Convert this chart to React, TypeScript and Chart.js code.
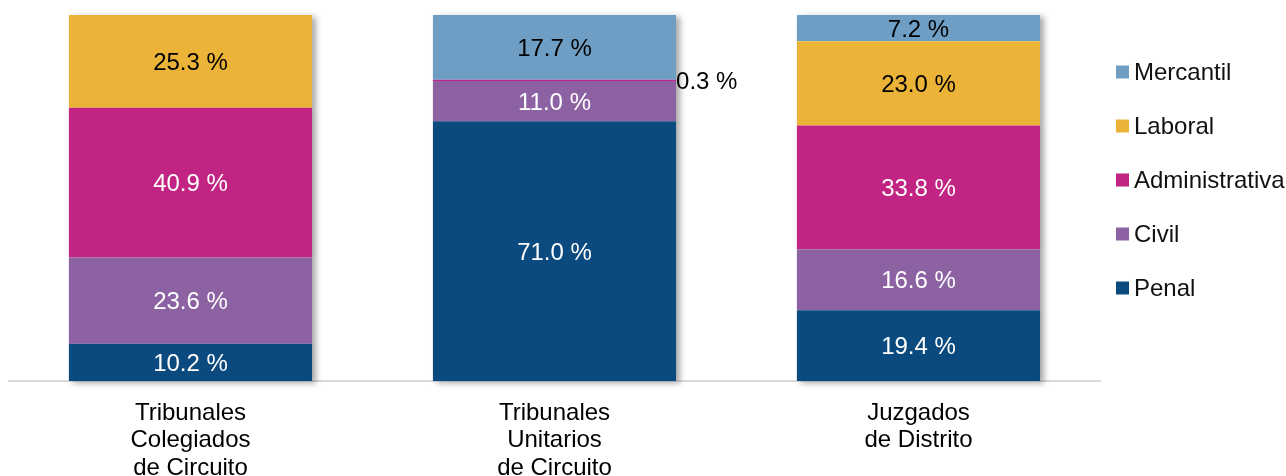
import React, { useEffect, useRef } from "react";
import { Chart, registerables } from "chart.js";

Chart.register(...registerables);

const categories = [
  ["Tribunales", "Colegiados", "de Circuito"],
  ["Tribunales", "Unitarios", "de Circuito"],
  ["Juzgados", "de Distrito"],
];
const seriesNames = ["Penal", "Civil", "Administrativa", "Laboral", "Mercantil"];
const penal = [10.2, 71.0, 19.4];
const civil = [23.6, 11.0, 16.6];
const administrativa = [40.9, 0.3, 33.8];
const laboral = [25.3, 0, 23.0];
const mercantil = [0, 17.7, 7.2];
const seriesValues = [penal, civil, administrativa, laboral, mercantil];
const seriesColors = ["#0b4a7e", "#8d62a3", "#c12482", "#ebb337", "#6f9ec4"];
const labelColors = ["#ffffff", "#ffffff", "#ffffff", "#000000", "#000000"];

const FONT = '"Liberation Sans", Arial, sans-serif';

const shadowPlugin = {
  id: "barShadow",
  beforeDatasetsDraw(chart: any) {
    const ctx = chart.ctx;
    const meta = chart.getDatasetMeta(0);
    const y = chart.scales.y;
    ctx.save();
    ctx.shadowColor = "rgba(0,0,0,0.35)";
    ctx.shadowBlur = 6;
    ctx.shadowOffsetX = 4;
    ctx.shadowOffsetY = 2;
    ctx.fillStyle = "#ffffff";
    meta.data.forEach((bar: any, i: number) => {
      let total = 0;
      seriesValues.forEach((s) => (total += s[i]));
      const top = y.getPixelForValue(total);
      const bottom = y.getPixelForValue(0);
      ctx.fillRect(bar.x - bar.width / 2, top, bar.width, bottom - top);
    });
    ctx.restore();
  },
};

const labelPlugin = {
  id: "segLabels",
  afterDatasetsDraw(chart: any) {
    const ctx = chart.ctx;
    ctx.save();
    ctx.font = `24px ${FONT}`;
    ctx.textBaseline = "middle";
    chart.data.datasets.forEach((ds: any, di: number) => {
      const meta = chart.getDatasetMeta(di);
      meta.data.forEach((bar: any, i: number) => {
        const v = ds.data[i];
        if (!v) return;
        const text = v.toFixed(1) + " %";
        const cy = (bar.y + bar.base) / 2 + 2;
        if (v < 3) {
          ctx.fillStyle = "#000000";
          ctx.textAlign = "left";
          ctx.fillText(text, bar.x + bar.width / 2 + 0, cy);
        } else {
          ctx.fillStyle = labelColors[di];
          ctx.textAlign = "center";
          ctx.fillText(text, bar.x, cy);
        }
      });
    });
    ctx.restore();
  },
};

const legendPlugin = {
  id: "sideLegend",
  afterDraw(chart: any) {
    const ctx = chart.ctx;
    const area = chart.chartArea;
    const boxX = area.right + 15.5;
    const textX = boxX + 18;
    const startY = 72;
    const step = 54;
    ctx.save();
    ctx.font = `24px ${FONT}`;
    ctx.textBaseline = "middle";
    ctx.textAlign = "left";
    const n = chart.data.datasets.length;
    for (let k = 0; k < n; k++) {
      const di = n - 1 - k;
      const ds = chart.data.datasets[di];
      const cy = startY + k * step;
      ctx.fillStyle = ds.backgroundColor;
      ctx.fillRect(boxX, cy - 6.5, 13, 13);
      ctx.fillStyle = "#111111";
      ctx.fillText(ds.label, textX, cy + 1);
    }
    ctx.restore();
  },
};

export default function App() {
  const ref = useRef<HTMLCanvasElement>(null);
  useEffect(() => {
    if (!ref.current) return;
    const chart = new Chart(ref.current, {
      type: "bar",
      data: {
        labels: categories,
        datasets: seriesNames.map((name, i) => ({
          label: name,
          data: seriesValues[i],
          backgroundColor: seriesColors[i],
          borderWidth: 0,
          categoryPercentage: 1,
          barPercentage: 0.668,
        })),
      },
      options: {
        animation: false,
        responsive: false,
        maintainAspectRatio: false,
        layout: { padding: { top: 15, left: 8.5, right: 185.5, bottom: 0 } },
        plugins: { legend: { display: false }, tooltip: { enabled: false } },
        scales: {
          x: {
            stacked: true,
            grid: { display: false, drawTicks: false },
            border: { display: true, color: "#d9d9d9", width: 2 },
            ticks: {
              color: "#000000",
              font: { family: FONT, size: 24, lineHeight: 1.15 },
              padding: 18,
              maxRotation: 0,
              autoSkip: false,
            },
          },
          y: {
            stacked: true,
            display: false,
            min: 0,
            max: 100,
          },
        },
      },
      plugins: [shadowPlugin, labelPlugin, legendPlugin],
    });
    return () => chart.destroy();
  }, []);
  return (
    <div
      style={{
        position: "fixed",
        left: 0,
        top: 0,
        width: 1286,
        height: 476,
        overflow: "hidden",
        background: "#ffffff",
      }}
    >
      <canvas ref={ref} width={1286} height={500} style={{ display: "block", width: 1286, height: 500 }} />
    </div>
  );
}
